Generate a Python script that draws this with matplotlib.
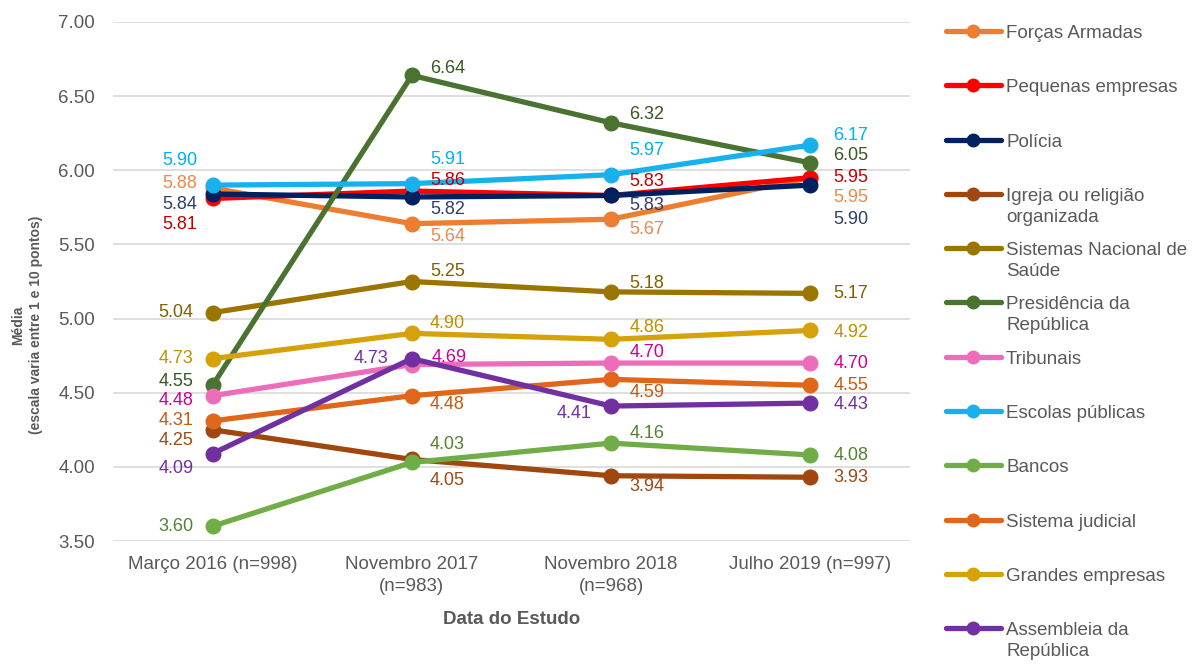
import matplotlib.pyplot as plt
from matplotlib.lines import Line2D

plt.rcParams['font.family'] = ['Liberation Sans', 'DejaVu Sans']

# Datos
fechas = ['Março 2016 (n=998)', 'Novembro 2017\n(n=983)', 'Novembro 2018\n(n=968)', 'Julho 2019 (n=997)']

series = ['Forças Armadas', 'Pequenas empresas', 'Polícia', 'Igreja ou religião\norganizada',
          'Sistemas Nacional de\nSaúde', 'Presidência da\nRepública', 'Tribunais', 'Escolas públicas',
          'Bancos', 'Sistema judicial', 'Grandes empresas', 'Assembleia da\nRepública']

forcas_armadas = [5.88, 5.64, 5.67, 5.95]
pequenas_empresas = [5.81, 5.86, 5.83, 5.95]
policia = [5.84, 5.82, 5.83, 5.90]
igreja = [4.25, 4.05, 3.94, 3.93]
saude = [5.04, 5.25, 5.18, 5.17]
presidencia = [4.55, 6.64, 6.32, 6.05]
tribunais = [4.48, 4.69, 4.70, 4.70]
escolas = [5.90, 5.91, 5.97, 6.17]
bancos = [3.60, 4.03, 4.16, 4.08]
sistema_judicial = [4.31, 4.48, 4.59, 4.55]
grandes_empresas = [4.73, 4.90, 4.86, 4.92]
assembleia = [4.09, 4.73, 4.41, 4.43]

valores = [forcas_armadas, pequenas_empresas, policia, igreja, saude, presidencia,
           tribunais, escolas, bancos, sistema_judicial, grandes_empresas, assembleia]

# Colores de linea y de etiqueta
colores = ['#ED7D31', '#FF0000', '#002060', '#A0470F', '#9A7500', '#4A7331',
           '#EE6DBA', '#17B2EE', '#70AD47', '#E0661A', '#D5A20A', '#7030A0']
colores_txt = ['#E9894A', '#C00000', '#2F3F6B', '#9C4A17', '#806000', '#385723',
               '#CC0099', '#00B0F0', '#548235', '#C55A11', '#BF9000', '#7030A0']

# Desplazamientos de etiquetas en pixeles (dx, dy hacia abajo)
desp = [
    [(-15, -5), (18, 13), (18, 10), (23, 20)],
    [(-15, 26), (18, -11), (18, -14), (23, 0)],
    [(-15, 10), (18, 13), (18, 10), (23, 34)],
    [(-19, 11), (18, 21), (18, 11), (23, 0)],
    [(-19, 0), (18, -10), (18, -8), (23, 0)],
    [(-19, -4), (18, -7), (18, -8), (23, -7)],
    [(-19, 5), (20, -7), (18, -11), (23, 0)],
    [(-15, -25), (18, -24), (18, -24), (23, -10)],
    [(-19, 0), (18, -18), (18, -10), (23, 1)],
    [(-19, 0), (18, 9), (18, 13), (23, 0)],
    [(-19, 0), (18, -10), (18, -12), (23, 2)],
    [(-19, 15), (-24, 0), (-20, 7), (23, 1)],
]

gris = '#595959'

fig = plt.figure(figsize=(11.95, 6.68), dpi=100)
ax = fig.add_axes([113 / 1195, 1 - 541 / 668, 797 / 1195, 519 / 668])

x = list(range(len(fechas)))
for i, (nombre, v) in enumerate(zip(series, valores)):
    ax.plot(x, v, color=colores[i], lw=3.8, marker='o', ms=10.5, zorder=3 + i * 0.01,
            solid_capstyle='round')
    for j, val in enumerate(v):
        dx, dy = desp[i][j]
        ax.annotate(f'{val:.2f}', (j, val), xytext=(dx, -dy), textcoords='offset pixels',
                    ha='right' if dx < 0 else 'left', va='center', fontsize=13,
                    color=colores_txt[i], zorder=5)

ax.set_xlim(-0.5, 3.5)
ax.set_ylim(3.5, 7.0)
ax.set_yticks([3.5, 4.0, 4.5, 5.0, 5.5, 6.0, 6.5, 7.0])
ax.set_yticklabels([f'{t:.2f}' for t in ax.get_yticks()])
ax.set_xticks(x)
ax.set_xticklabels(fechas, linespacing=1.35)
ax.tick_params(axis='y', length=0, pad=13, labelsize=13.5, labelcolor=gris)
ax.tick_params(axis='x', length=0, pad=11, labelsize=13.5, labelcolor=gris)
ax.grid(axis='y', color='#D9D9D9', lw=1.2)
ax.set_axisbelow(True)
for s in ax.spines.values():
    s.set_visible(False)

ax.set_xlabel('Data do Estudo', fontsize=13.5, fontweight='bold', color=gris, labelpad=12)
ax.set_ylabel('Média\n(escala varia entre 1 e 10 pontos)', fontsize=10, fontweight='bold',
              color=gris, linespacing=1.3)
ax.yaxis.set_label_coords(-0.088, 0.416)

# Leyenda manual a la derecha
y0 = 1 - 31 / 668
paso = 54.3 / 668
for i, nombre in enumerate(series):
    y = y0 - i * paso
    fig.add_artist(Line2D([946 / 1195, 1001 / 1195], [y, y], color=colores[i], lw=3.8,
                          solid_capstyle='round'))
    fig.add_artist(Line2D([973 / 1195], [y], color=colores[i], marker='o', ms=9))
    fig.text(1006 / 1195, y + 6 / 668, nombre, fontsize=13.5, color=gris, va='top',
             linespacing=1.3)

fig.savefig('out.png', dpi=100)
